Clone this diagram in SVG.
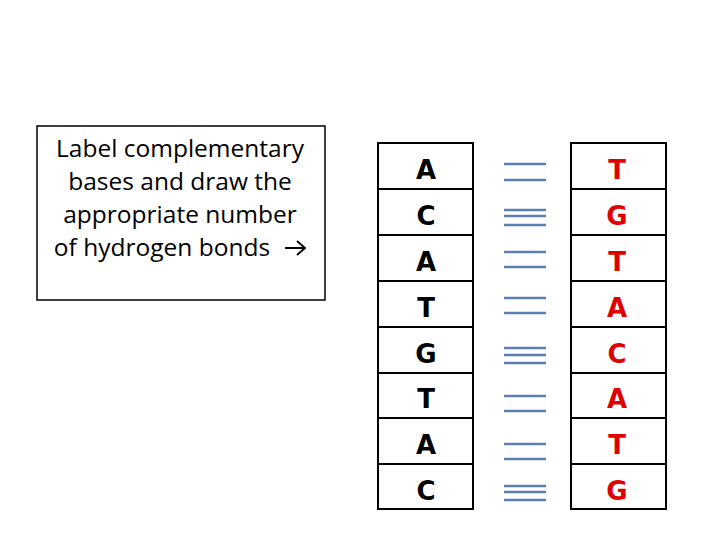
<svg xmlns="http://www.w3.org/2000/svg" width="720" height="540" viewBox="0 0 720 540">
<defs>
<style>
.box{fill:#fff;stroke:#000;stroke-width:1.5}
.cell{fill:#fff;stroke:#000;stroke-width:2}
.b{font-family:"DejaVu Sans",sans-serif;font-weight:bold;font-size:26px;text-anchor:middle}
.r{fill:#e00000}
.l{font-family:"Open Sans",sans-serif;font-size:24.5px;text-anchor:middle;fill:#000}
.bond{stroke:#5b7fae;stroke-width:2.5}
</style>
<marker id="ar" viewBox="0 0 10 10" refX="9" refY="5" markerWidth="8" markerHeight="8" markerUnits="userSpaceOnUse" orient="auto"><path d="M1,1 L9,5 L1,9" fill="none" stroke="#000" stroke-width="1.5"/></marker>
</defs>
<rect width="720" height="540" fill="#fff"/>
<g id="instruction">
<rect class="box" x="37" y="126" width="288" height="174"/>
<text class="l" x="180" y="157">Label complementary</text>
<text class="l" x="180" y="190">bases and draw the</text>
<text class="l" x="180" y="223">appropriate number</text>
<text class="l" x="162" y="256">of hydrogen bonds</text>
<path d="M285 248H304M297 241L305 248L297 255" fill="none" stroke="#000" stroke-width="1.8"/>
</g>
<g id="left">
<rect class="cell" x="378" y="143" width="95" height="366"/>
<path d="M378 189H473M378 235H473M378 281H473M378 327H473M378 373H473M378 418H473M378 464H473" stroke="#000" stroke-width="2"/>
<text class="b" x="426" y="179">A</text>
<text class="b" x="426" y="225">C</text>
<text class="b" x="426" y="271">A</text>
<text class="b" x="426" y="317">T</text>
<text class="b" x="426" y="363">G</text>
<text class="b" x="426" y="408">T</text>
<text class="b" x="426" y="454">A</text>
<text class="b" x="426" y="500">C</text>
</g>
<g id="right">
<rect class="cell" x="571" y="143" width="95" height="366"/>
<path d="M571 189H666M571 235H666M571 281H666M571 327H666M571 373H666M571 418H666M571 464H666" stroke="#000" stroke-width="2"/>
<text class="b r" x="617" y="179">T</text>
<text class="b r" x="617" y="225">G</text>
<text class="b r" x="617" y="271">T</text>
<text class="b r" x="617" y="317">A</text>
<text class="b r" x="617" y="363">C</text>
<text class="b r" x="617" y="408">A</text>
<text class="b r" x="617" y="454">T</text>
<text class="b r" x="617" y="500">G</text>
</g>
<g id="connectors" class="bond">
<path d="M504 164H546M504 180H546"/>
<path d="M504 210H546M504 216H546M504 225H546"/>
<path d="M504 252H546M504 267H546"/>
<path d="M504 298H546M504 313H546"/>
<path d="M504 348H546M504 355H546M504 363H546"/>
<path d="M504 396H546M504 411H546"/>
<path d="M504 444H546M504 459H546"/>
<path d="M504 486H546M504 492H546M504 500H546"/>
</g>
</svg>
